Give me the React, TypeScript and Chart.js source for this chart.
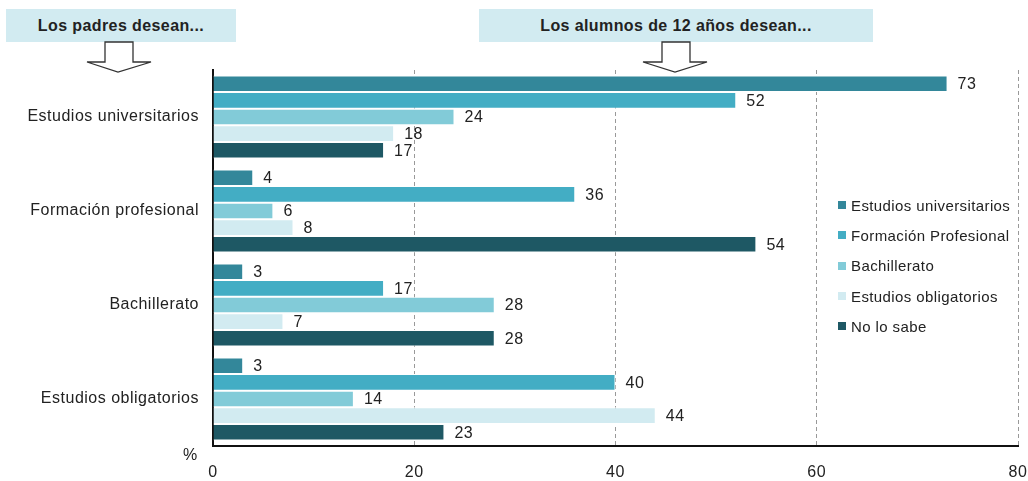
import React, { useEffect, useRef } from "react";
import { Chart, registerables } from "chart.js";

Chart.register(...registerables);

const categories = ["Estudios universitarios", "Formación profesional", "Bachillerato", "Estudios obligatorios"];
const seriesNames = ["Estudios universitarios", "Formación Profesional", "Bachillerato", "Estudios obligatorios", "No lo sabe"];
const estudiosUniversitarios = [73, 4, 3, 3];
const formacionProfesional = [52, 36, 17, 40];
const bachillerato = [24, 6, 28, 14];
const estudiosObligatorios = [18, 8, 7, 44];
const noLoSabe = [17, 54, 28, 23];
const colors = ["#33879a", "#43adc4", "#82cbd8", "#d2ebf1", "#1e5864"];
const xTicks = [0, 20, 40, 60, 80];
const headerLeft = "Los padres desean...";
const headerRight = "Los alumnos de 12 años desean...";

const FONT = "'Liberation Sans', Arial, sans-serif";

const spacingPlugin = {
  id: "spacing",
  beforeInit(chart: any) {
    chart.ctx.letterSpacing = "0.5px";
  },
  beforeDraw(chart: any) {
    chart.ctx.letterSpacing = "0.5px";
  },
};

const labelPlugin = {
  id: "barLabels",
  afterDatasetsDraw(chart: any) {
    const ctx = chart.ctx;
    ctx.save();
    ctx.font = `16px ${FONT}`;
    ctx.fillStyle = "#222";
    ctx.textBaseline = "middle";
    ctx.textAlign = "left";
    chart.data.datasets.forEach((ds: any, i: number) => {
      const meta = chart.getDatasetMeta(i);
      meta.data.forEach((bar: any, j: number) => {
        ctx.fillText(String(ds.data[j]), bar.x + 10, bar.y + 1);
      });
    });
    ctx.restore();
  },
};

export default function App() {
  const ref = useRef<HTMLCanvasElement>(null);
  useEffect(() => {
    const series = [estudiosUniversitarios, formacionProfesional, bachillerato, estudiosObligatorios, noLoSabe];
    const chart = new Chart(ref.current!, {
      type: "bar",
      data: {
        labels: categories,
        datasets: series.map((d, i) => ({
          label: seriesNames[i],
          data: d,
          backgroundColor: colors[i],
          borderColor: "#ffffff",
          borderWidth: 1,
          categoryPercentage: 0.885,
          barPercentage: 1,
        })),
      },
      options: {
        indexAxis: "y",
        animation: false,
        responsive: false,
        maintainAspectRatio: false,
        layout: { padding: { top: 70, right: 10, bottom: 0, left: 0 } },
        plugins: { legend: { display: false }, tooltip: { enabled: false } },
        scales: {
          x: {
            min: 0,
            max: 80,
            afterBuildTicks: (scale: any) => {
              scale.ticks = xTicks.map((v) => ({ value: v }));
            },
            afterFit: (scale: any) => {
              scale.height = 35;
              scale.paddingRight = 0;
              scale.paddingLeft = 0;
            },
            grid: {
              color: "#999",
              lineWidth: 1,
              drawTicks: false,
            },
            border: { display: true, color: "#111", width: 2, dash: [4, 3] },
            ticks: { font: { family: FONT, size: 16 }, color: "#222", padding: 17 },
          },
          y: {
            afterFit: (scale: any) => {
              scale.width = 213;
            },
            grid: { display: false, drawTicks: false },
            border: { display: true, color: "#111", width: 2 },
            ticks: { font: { family: FONT, size: 16 }, color: "#222", padding: 14 },
          },
        },
      } as any,
      plugins: [spacingPlugin, labelPlugin],
    });
    return () => chart.destroy();
  }, []);

  const box: React.CSSProperties = {
    position: "absolute",
    top: 9,
    height: 33,
    background: "#d2ebf1",
    fontFamily: FONT,
    fontWeight: "bold",
    fontSize: 16,
    letterSpacing: "0.4px",
    color: "#222",
    display: "flex",
    alignItems: "center",
    justifyContent: "center",
  };

  return (
    <div style={{ position: "absolute", left: 0, top: 0, width: 1028, height: 481, background: "#fff" }}>
      <canvas ref={ref} width={1028} height={481} style={{ position: "absolute", left: 0, top: 0 }} />
      <div style={{ ...box, left: 6, width: 230 }}>{headerLeft}</div>
      <div style={{ ...box, left: 479, width: 394 }}>{headerRight}</div>
      <svg width={1028} height={481} style={{ position: "absolute", left: 0, top: 0, pointerEvents: "none" }}>
        <polygon points="105,42 133,42 133,62 151,62 118,72 87,62 105,62" fill="#fff" stroke="#333" strokeWidth={1.3} />
        <polygon points="662,42 690,42 690,62 707,62 675,72 643,62 662,62" fill="#fff" stroke="#333" strokeWidth={1.3} />
      </svg>
      <div style={{ position: "absolute", left: 838, top: 190, fontFamily: FONT, fontSize: 15, letterSpacing: "0.4px", color: "#222" }}>
        {seriesNames.map((n, i) => (
          <div key={n} style={{ display: "flex", alignItems: "center", height: 30.3 }}>
            <span style={{ display: "inline-block", width: 8, height: 8, background: colors[i], marginRight: 5 }} />
            <span>{n}</span>
          </div>
        ))}
      </div>
      <div style={{ position: "absolute", left: 183, top: 446, fontFamily: FONT, fontSize: 16, color: "#222" }}>%</div>
    </div>
  );
}
